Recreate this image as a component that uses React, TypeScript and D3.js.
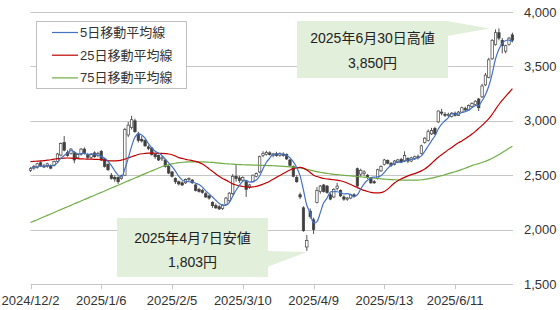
import React from 'react';
import * as d3 from 'd3';

// ---- data ----
const tickLabels = ['2024/12/2', '2025/1/6', '2025/2/5', '2025/3/10', '2025/4/9', '2025/5/13', '2025/6/11'];
const tickIndex = [0, 21, 42, 63, 84, 105, 126];
const yTicks = [1500, 2000, 2500, 3000, 3500, 4000];
const legendLabels = ['5日移動平均線', '25日移動平均線', '75日移動平均線'];

const opens = [2545,2565,2570,2615,2585,2580,2590,2590,2625,2685, 2800,2710,2700,2705,2660,2690,2740,2690,2665,2705, 2680,2720,2650,2600,2500,2480,2480,2470,2500,2870, 2940,3000,2880,2830,2820,2760,2750,2690,2680,2650, 2640,2580,2530,2470,2440,2430,2430,2460,2455,2410, 2370,2360,2330,2310,2250,2220,2210,2195,2230,2265, 2330,2490,2475,2455,2440,2390,2440,2490,2530,2680, 2690,2705,2680,2695,2680,2695,2690,2640,2580,2480, 2320,2200,1840,2170,2090,2250,2350,2410,2400,2320, 2300,2380,2360,2300,2280,2290,2320,2560,2510,2515, 2500,2470,2440,2470,2540,2600,2635,2610,2600,2620, 2645,2630,2655,2630,2650,2670,2700,2800,2820,2880, 2930,2990,3080,3060,3050,3040,3070,3050,3080,3115, 3100,3130,3150,3200,3220,3330,3400,3570,3700,3810, 3740,3640,3700,3790];
const highs = [2575,2595,2615,2630,2605,2615,2600,2635,2705,2800, 2860,2730,2750,2720,2700,2750,2755,2705,2700,2720, 2715,2730,2660,2610,2520,2500,2490,2505,2935,2990, 3045,3020,2900,2860,2830,2775,2760,2700,2690,2675, 2650,2595,2540,2480,2450,2445,2470,2480,2465,2420, 2385,2375,2345,2320,2260,2240,2225,2235,2300,2345, 2510,2600,2495,2490,2450,2420,2505,2525,2680,2720, 2725,2720,2705,2715,2710,2710,2700,2650,2590,2500, 2340,2215,1950,2195,2110,2390,2410,2420,2410,2335, 2380,2430,2370,2315,2300,2330,2335,2570,2560,2545, 2510,2480,2455,2560,2590,2650,2645,2620,2640,2650, 2660,2720,2665,2670,2680,2690,2780,2850,2920,2935, 2945,3095,3110,3080,3075,3080,3085,3090,3130,3130, 3150,3170,3190,3210,3340,3440,3580,3750,3840,3850, 3760,3700,3770,3810];
const lows = [2530,2550,2560,2575,2565,2570,2555,2580,2615,2675, 2720,2670,2690,2610,2650,2680,2690,2650,2650,2660, 2665,2630,2570,2540,2460,2440,2420,2460,2495,2850, 2920,2890,2800,2800,2760,2730,2680,2650,2630,2630, 2570,2510,2480,2420,2405,2400,2420,2445,2420,2350, 2340,2330,2290,2275,2200,2190,2180,2180,2220,2255, 2320,2440,2430,2440,2300,2375,2430,2480,2520,2665, 2680,2680,2665,2670,2670,2670,2640,2580,2480,2430, 2280,1980,1803,2100,1960,2240,2330,2340,2330,2270, 2290,2360,2300,2265,2265,2280,2295,2395,2490,2495, 2465,2420,2420,2460,2530,2590,2600,2575,2590,2610, 2610,2620,2610,2620,2640,2645,2690,2790,2810,2870, 2870,2980,3050,3035,3035,3030,3040,3045,3075,3090, 3095,3120,3140,3090,3210,3320,3390,3560,3690,3740, 3620,3620,3690,3720];
const closes = [2560,2580,2605,2585,2575,2605,2565,2625,2695,2790, 2730,2680,2740,2640,2690,2740,2700,2665,2690,2670, 2700,2640,2580,2550,2470,2465,2440,2495,2920,2960, 3010,2900,2820,2815,2770,2745,2690,2670,2640,2660, 2580,2520,2490,2440,2420,2410,2460,2470,2430,2360, 2350,2340,2300,2290,2220,2200,2190,2225,2290,2335, 2490,2470,2450,2480,2370,2410,2500,2515,2670,2700, 2710,2690,2695,2680,2700,2680,2650,2590,2490,2440, 2300,1990,1900,2120,2000,2360,2400,2350,2340,2280, 2370,2400,2310,2280,2290,2320,2310,2400,2545,2530, 2480,2430,2430,2550,2580,2640,2610,2590,2630,2640, 2620,2680,2630,2660,2670,2660,2770,2840,2900,2910, 2880,3090,3070,3050,3060,3070,3050,3080,3120,3100, 3140,3160,3180,3120,3320,3420,3560,3740,3810,3760, 3690,3690,3760,3740];

const ma5 = [2565,2570,2580,2585,2581, 2590,2587,2591,2613,2656, 2681,2704,2727,2716,2696, 2698,2702,2687,2697,2693, 2685,2673,2656,2628,2588, 2541,2501,2484,2558,2656, 2765,2850,2880,2870,2840, 2790,2750,2720,2703,2681, 2648,2614,2578,2538,2490, 2456,2444,2440,2438,2426, 2414,2390,2356,2328,2300, 2270,2240,2225,2225,2248, 2306,2362,2407,2445,2452, 2436,2442,2455,2493,2559, 2619,2657,2693,2695,2695, 2689,2681,2660,2622,2570, 2494,2362,2224,2150,2062, 2074,2156,2246,2290,2346, 2348,2348,2340,2328,2330, 2320,2302,2320,2373,2421, 2453,2477,2483,2484,2494, 2526,2562,2594,2610,2622, 2618,2632,2640,2646,2652, 2660,2678,2720,2768,2816, 2860,2924,2970,3000,3030, 3068,3060,3062,3076,3084, 3098,3120,3140,3140,3184, 3240,3320,3432,3570,3658, 3712,3738,3742,3728];
const ma25 = [2625,2627,2629,2631,2634,2638,2642,2647,2652,2655, 2657,2658,2657,2655,2652,2650,2649,2648,2647,2646, 2645,2642,2638,2634,2632,2632,2634,2638,2648,2660, 2670,2680,2690,2697,2700,2702,2702,2702,2701,2700, 2698,2695,2688,2676,2662,2655,2646,2640,2634,2627, 2618,2602,2582,2558,2535,2512,2490,2470,2455,2438, 2420,2410,2402,2396,2392,2390,2392,2398,2406,2418, 2430,2445,2462,2480,2498,2515,2532,2548,2560,2568, 2572,2565,2548,2525,2500,2488,2478,2470,2465,2462, 2458,2454,2449,2440,2428,2414,2400,2386,2372,2360, 2350,2342,2338,2337,2340,2350,2372,2400,2428,2450, 2466,2480,2494,2505,2515,2526,2540,2558,2580,2608, 2638,2665,2688,2710,2735,2755,2778,2798,2815,2835, 2855,2878,2903,2930,2958,2988,3020,3060,3105,3150, 3190,3225,3260,3295];
const ma75 = [2065,2078,2091,2105,2118,2131,2144,2157,2171,2184, 2197,2210,2223,2237,2250,2263,2276,2289,2303,2316, 2329,2342,2355,2369,2382,2395,2408,2421,2435,2448, 2461,2474,2487,2501,2514,2527,2540,2553,2566,2578, 2588,2597,2604,2610,2615,2619,2621,2622,2623,2623, 2623,2622,2621,2619,2617,2614,2611,2608,2605,2603, 2601,2599,2597,2596,2595,2594,2593,2592,2591,2590, 2589,2588,2587,2585,2583,2581,2579,2577,2574,2570, 2566,2560,2553,2546,2539,2533,2527,2522,2517,2512, 2508,2505,2502,2499,2496,2494,2491,2488,2485,2482, 2479,2476,2473,2470,2467,2464,2462,2460,2458,2456, 2455,2454,2454,2454,2454,2455,2458,2462,2467,2473, 2480,2488,2496,2505,2514,2523,2532,2542,2553,2564, 2576,2588,2598,2607,2617,2628,2641,2656,2672,2690, 2709,2728,2748,2767];

const highNote = ['2025年6月30日高値', '3,850円'];
const lowNote = ['2025年4月7日安値', '1,803円'];

const FONT = '"Liberation Sans", Arial, "Noto Sans CJK JP", sans-serif';
const TEXT = '#333333';
const GRID = '#c6c6c6';
const CANDLE = '#404040';
const COLORS = ['#4472c4', '#c00000', '#70ad47'];
const NOTE_FILL = '#e2efda';

export default function App() {
  const W = 560, H = 310;
  const n = closes.length;
  const x = d3.scaleLinear().domain([0, n - 1]).range([30.5, 512.4]);
  const y = d3.scaleLinear().domain([1500, 4000]).range([284, 12]);
  const idx = d3.range(n);

  const smooth = d3.line<number>().x((_, i) => x(i)).y(d => y(d)).curve(d3.curveCatmullRom.alpha(0.5));
  const straight = d3.line<number>().x((_, i) => x(i)).y(d => y(d)).curve(d3.curveMonotoneX);

  const bw = 2.4;

  return (
    <svg width={W} height={H} style={{ position: 'absolute', left: 0, top: 0, background: '#fff' }} fontFamily={FONT}>
      <rect x={0} y={0} width={W} height={H} fill="#fff" />
      {/* gridlines */}
      {yTicks.map(t => (
        <line key={t} x1={30.5} x2={513} y1={Math.round(y(t)) + 0.5} y2={Math.round(y(t)) + 0.5} stroke={GRID} strokeWidth={1} />
      ))}
      {yTicks.map(t => (
        <text key={'l' + t} x={524} y={y(t) + 4.5} fontSize={13} fill={TEXT}>{d3.format(',')(t)}</text>
      ))}
      {/* x axis ticks */}
      {tickIndex.map((ti, k) => (
        <g key={ti}>
          <line x1={Math.round(x(ti)) + 0.5} x2={Math.round(x(ti)) + 0.5} y1={284} y2={289} stroke={GRID} />
          <text x={x(ti)} y={305} fontSize={13} fill={TEXT} textAnchor="middle">{tickLabels[k]}</text>
        </g>
      ))}
      {/* candles */}
      {idx.map(i => {
        const up = closes[i] >= opens[i];
        const top = y(Math.max(opens[i], closes[i]));
        const bot = y(Math.min(opens[i], closes[i]));
        return (
          <g key={i}>
            <line x1={x(i)} x2={x(i)} y1={y(highs[i])} y2={y(lows[i])} stroke={CANDLE} strokeWidth={0.9} />
            <rect x={x(i) - bw / 2} y={top} width={bw} height={Math.max(bot - top, 0.8)}
              fill={up ? '#ffffff' : CANDLE} stroke={CANDLE} strokeWidth={0.7} />
          </g>
        );
      })}
      {/* moving averages */}
      <path d={straight(ma75) || ''} fill="none" stroke={COLORS[2]} strokeWidth={1.2} />
      <path d={straight(ma25) || ''} fill="none" stroke={COLORS[1]} strokeWidth={1.2} />
      <path d={smooth(ma5) || ''} fill="none" stroke={COLORS[0]} strokeWidth={1.2} />

      {/* legend */}
      <rect x={36.5} y={21.5} width={150} height={67} fill="#fff" stroke="#bfbfbf" />
      {legendLabels.map((lab, k) => (
        <g key={lab}>
          <line x1={52} x2={78} y1={32.5 + k * 22.7} y2={32.5 + k * 22.7} stroke={COLORS[k]} strokeWidth={1.2} />
          <text x={80} y={37 + k * 22.7} fontSize={13} fill={TEXT}>{lab}</text>
        </g>
      ))}

      {/* high annotation */}
      <polygon points="447,21 490,28.5 447,36" fill={NOTE_FILL} />
      <rect x={297} y={21} width={151} height={57} fill={NOTE_FILL} />
      <text x={372.5} y={42.5} fontSize={14} fill="#222" textAnchor="middle">{highNote[0]}</text>
      <text x={372.5} y={67.5} fontSize={14} fill="#222" textAnchor="middle">{highNote[1]}</text>

      {/* low annotation */}
      <polygon points="267,251 307,252 267,267" fill={NOTE_FILL} />
      <rect x={117} y={218} width={151} height={59} fill={NOTE_FILL} />
      <text x={192.5} y={243} fontSize={14} fill="#222" textAnchor="middle">{lowNote[0]}</text>
      <text x={192.5} y={267} fontSize={14} fill="#222" textAnchor="middle">{lowNote[1]}</text>
    </svg>
  );
}
